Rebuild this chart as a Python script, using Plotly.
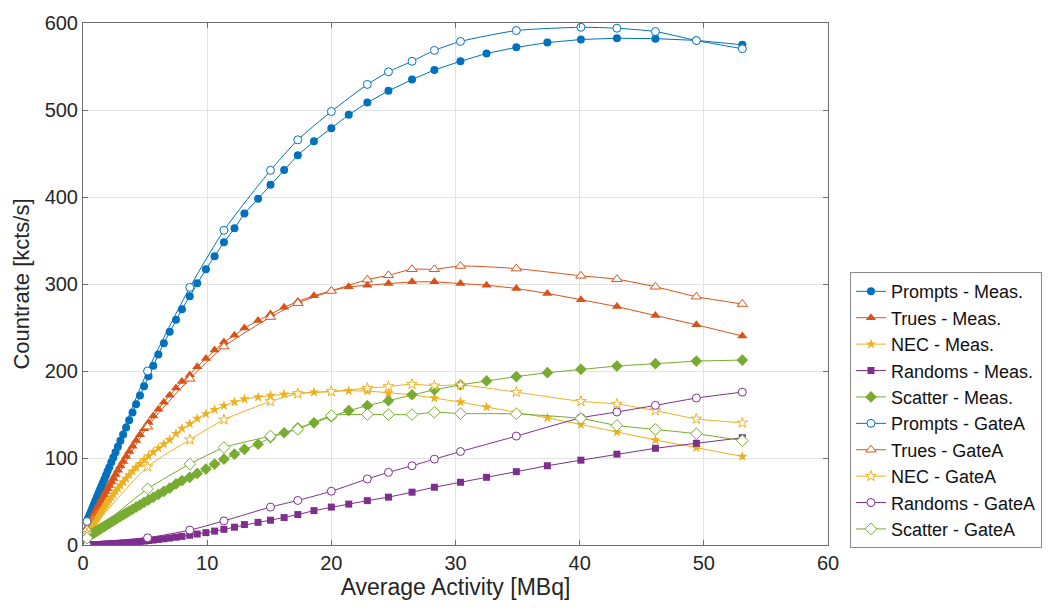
import plotly.graph_objects as go

# ---------------- data ----------------
act_meas = [0.32, 0.34, 0.37, 0.39, 0.42, 0.45, 0.49, 0.52, 0.56, 0.60, 0.65, 0.69, 0.74, 0.80, 0.85,
            0.92, 0.98, 1.05, 1.13, 1.21, 1.30, 1.39, 1.49, 1.60, 1.72, 1.85, 1.98, 2.12, 2.28, 2.44,
            2.62, 2.81, 3.01, 3.23, 3.47, 3.72, 3.99, 4.28, 4.59, 4.92, 5.28, 5.66, 6.07, 6.51, 6.98,
            7.49, 7.97, 8.6, 9.2, 9.9, 10.6, 11.35, 12.2, 13.0, 14.1, 15.1, 16.2, 17.3, 18.6, 20.0,
            21.4, 22.9, 24.6, 26.5, 28.3, 30.4, 32.5, 34.9, 37.4, 40.1, 43.0, 46.1, 49.4, 53.1]

prompts_meas = [26.5, 27.2, 28.3, 29.0, 30.1, 31.1, 32.5, 33.6, 35.0, 36.5, 38.2, 39.7, 41.4, 43.5, 45.3,
                47.8, 49.9, 52.4, 55.2, 58.0, 61.1, 64.3, 67.7, 71.6, 75.7, 80.2, 84.7, 89.5, 95.0, 100.5,
                106.6, 113.0, 119.7, 127.1, 135.1, 143.4, 152.3, 161.8, 171.8, 182.4, 193.9, 206.0, 219.0, 232.0, 245.0,
                259, 271, 286, 301, 317, 332, 348, 364, 381, 398, 414, 431, 448, 464, 479,
                494.5, 508.5, 522, 535, 546, 556, 565, 572, 577.5, 581, 582.5, 582, 580, 575]

trues_meas = [18.5, 19.1, 20.0, 20.6, 21.4, 22.3, 23.5, 24.3, 25.5, 26.7, 28.1, 29.2, 30.7, 32.4, 33.8,
              35.8, 37.5, 39.5, 41.7, 43.9, 46.4, 48.9, 51.6, 54.6, 57.8, 61.2, 64.7, 68.3, 72.5, 76.5,
              81.1, 85.8, 90.7, 96.0, 101.7, 107.5, 113.6, 120.0, 126.7, 133.6, 140.9, 148.4, 156.1, 164.0, 172.1,
              180.4, 188, 195.5, 205, 214.4, 224, 233.4, 241, 249.3, 258, 265.6, 273.3, 280, 286.6, 292.3,
              296.8, 298.5, 300.6, 302.5, 302.5, 300.6, 298.7, 294.9, 289.2, 282, 274, 263.8, 253.1, 240.2]

nec_meas = [12.9, 13.4, 14.1, 14.6, 15.2, 16.0, 17.0, 17.6, 18.6, 19.5, 20.7, 21.5, 22.8, 24.1, 25.2,
            26.8, 28.2, 29.8, 31.5, 33.2, 35.2, 37.2, 39.3, 41.6, 44.1, 46.7, 49.4, 52.1, 55.3, 58.2,
            61.7, 65.1, 68.7, 72.5, 76.6, 80.6, 84.7, 89.0, 93.4, 97.9, 102.4, 106.9, 111.3, 115.9, 120.9,
            128, 134, 139.3, 145.4, 150.7, 155.6, 160.2, 164.3, 167.7, 170, 171.9, 173.4, 174.6, 175.7, 176.5,
            177.3, 177, 174.6, 172.7, 168.9, 164.3, 158.6, 152.6, 146.1, 138.5, 129.8, 120.7, 111.9, 101.7]

randoms_meas = [0.06, 0.06, 0.07, 0.08, 0.09, 0.10, 0.11, 0.12, 0.14, 0.15, 0.17, 0.19, 0.22, 0.24, 0.27,
                0.31, 0.34, 0.38, 0.43, 0.48, 0.53, 0.59, 0.67, 0.75, 0.84, 0.94, 1.05, 1.17, 1.32, 1.47,
                1.65, 1.85, 2.07, 2.31, 2.60, 2.91, 3.25, 3.64, 4.08, 4.55, 5.10, 5.70, 6.38, 7.15, 8.00,
                8.97, 9.9, 11.2, 12.6, 14.2, 16, 18, 20.5, 23.5, 26, 28.5, 31.5, 35, 39.5, 43.6,
                47, 51, 55, 60.7, 66.4, 72.1, 77.8, 84.3, 91.1, 97.5, 104.4, 111.2, 116.9, 123.3]

scatter_meas = [8.9, 9.1, 9.4, 9.6, 9.9, 10.1, 10.5, 10.8, 11.2, 11.5, 12.0, 12.3, 12.8, 13.3, 13.8,
                14.4, 15.0, 15.6, 16.3, 17.0, 17.8, 18.6, 19.5, 20.4, 21.5, 22.7, 23.8, 25.1, 26.5, 27.8,
                29.4, 31.1, 32.8, 34.7, 36.7, 38.8, 41.1, 43.6, 46.1, 48.9, 51.8, 54.9, 58.1, 61.7, 65.3,
                70.2, 74, 77.8, 82.3, 87.3, 93, 98.7, 104.4, 110, 115.8, 123.3, 129, 134.7, 140.4, 147.2,
                154.5, 160.2, 165.8, 172.7, 178.4, 184.1, 188.6, 193.6, 198.1, 201.9, 205.7, 208.4, 211.4, 212.6]

act_gate = [0.32, 5.2, 8.6, 11.35, 15.1, 17.3, 20.0, 22.9, 24.6, 26.5, 28.3, 30.4, 34.9, 40.1, 43.0, 46.1, 49.4, 53.1]
prompts_gate = [27, 200, 296, 361.7, 430.7, 465.7, 498.3, 529.4, 543.9, 556, 568.5, 578.8, 591.3, 595.1, 594, 590.2, 579.9, 570.4]
trues_gate = [18, 136, 191, 228, 262, 278, 292, 305, 310, 316.9, 316.9, 320.7, 317.7, 309.4, 305.5, 296.8, 285.4, 277]
nec_gate = [13, 90, 121, 144, 165, 173.9, 176.5, 180.3, 182.2, 184.8, 183, 184, 175.7, 165.1, 162, 154.5, 145, 140.4]
randoms_gate = [0.1, 8.3, 17.1, 27.7, 43.6, 51.2, 61.8, 75.9, 83.5, 91.1, 98.7, 107.4, 125.2, 146.1, 152.9, 160.5, 168.9, 175.7]
scatter_gate = [8, 64.5, 93, 112, 125.2, 133, 148.8, 150, 149.9, 149.9, 152.6, 151.1, 150.7, 145.4, 137.4, 132.8, 127.9, 120]

for s in (prompts_meas, trues_meas, nec_meas, randoms_meas, scatter_meas):
    assert len(s) == len(act_meas)
for s in (prompts_gate, trues_gate, nec_gate, randoms_gate, scatter_gate):
    assert len(s) == len(act_gate)

x_ticks = [0, 10, 20, 30, 40, 50, 60]
y_ticks = [0, 100, 200, 300, 400, 500, 600]

# ---------------- style ----------------
BLUE, ORANGE, YELLOW, PURPLE, GREEN = "#0072BD", "#D95319", "#EDB120", "#7E2F8E", "#77AC30"
FONT = "Liberation Sans, Arial, sans-serif"
TXT = "#262626"

fig = go.Figure()

meas = [
    ("Prompts - Meas.", prompts_meas, BLUE, "circle", 8),
    ("Trues - Meas.", trues_meas, ORANGE, "triangle-up", 9),
    ("NEC - Meas.", nec_meas, YELLOW, "star", 8),
    ("Randoms - Meas.", randoms_meas, PURPLE, "square", 7),
    ("Scatter - Meas.", scatter_meas, GREEN, "diamond", 9),
]
gate = [
    ("Prompts - GateA", prompts_gate, BLUE, "circle", 8),
    ("Trues - GateA", trues_gate, ORANGE, "triangle-up", 9),
    ("NEC - GateA", nec_gate, YELLOW, "star", 8),
    ("Randoms - GateA", randoms_gate, PURPLE, "circle", 8),
    ("Scatter - GateA", scatter_gate, GREEN, "diamond", 9),
]

for name, ys, col, sym, sz in meas:
    fig.add_trace(go.Scatter(
        x=act_meas, y=ys, name=name, mode="lines+markers",
        line=dict(color=col, width=1),
        marker=dict(symbol=sym, size=sz, color=col, line=dict(width=0))))

for name, ys, col, sym, sz in gate:
    fig.add_trace(go.Scatter(
        x=act_gate, y=ys, name=name, mode="lines+markers",
        line=dict(color=col, width=1, shape="spline", smoothing=0.6),
        marker=dict(symbol=sym, size=sz, color="white", line=dict(width=1, color=col))))

fig.update_layout(
    width=1055, height=614,
    margin=dict(l=83, r=227, t=18, b=69),
    paper_bgcolor="white", plot_bgcolor="white",
    font=dict(family=FONT, color=TXT, size=20),
    showlegend=True,
    legend=dict(x=1.0295, y=-0.006, xanchor="left", yanchor="bottom",
                bordercolor="#8a8a8a", borderwidth=1, bgcolor="white",
                font=dict(size=18, family=FONT, color="#111111"),
                tracegroupgap=0, itemwidth=30),
)
fig.update_xaxes(
    range=[0, 60], tickvals=x_ticks, ticktext=[str(v) for v in x_ticks],
    showgrid=True, gridcolor="#e3e3e3", gridwidth=1, zeroline=False,
    showline=True, linecolor="#6e6e6e", linewidth=1, mirror="ticks",
    ticks="inside", ticklen=5, tickcolor="#6e6e6e",
    tickfont=dict(size=20, color=TXT),
    title=dict(text="Average Activity [MBq]", font=dict(size=23, color=TXT), standoff=5),
)
fig.update_yaxes(
    range=[0, 600], tickvals=y_ticks, ticktext=[str(v) for v in y_ticks],
    showgrid=True, gridcolor="#e3e3e3", gridwidth=1, zeroline=False,
    showline=True, linecolor="#6e6e6e", linewidth=1, mirror="ticks",
    ticks="inside", ticklen=5, tickcolor="#6e6e6e",
    tickfont=dict(size=20, color=TXT),
    title=dict(text="Countrate [kcts/s]", font=dict(size=22, color=TXT), standoff=8),
)

fig.write_html("out.html")
